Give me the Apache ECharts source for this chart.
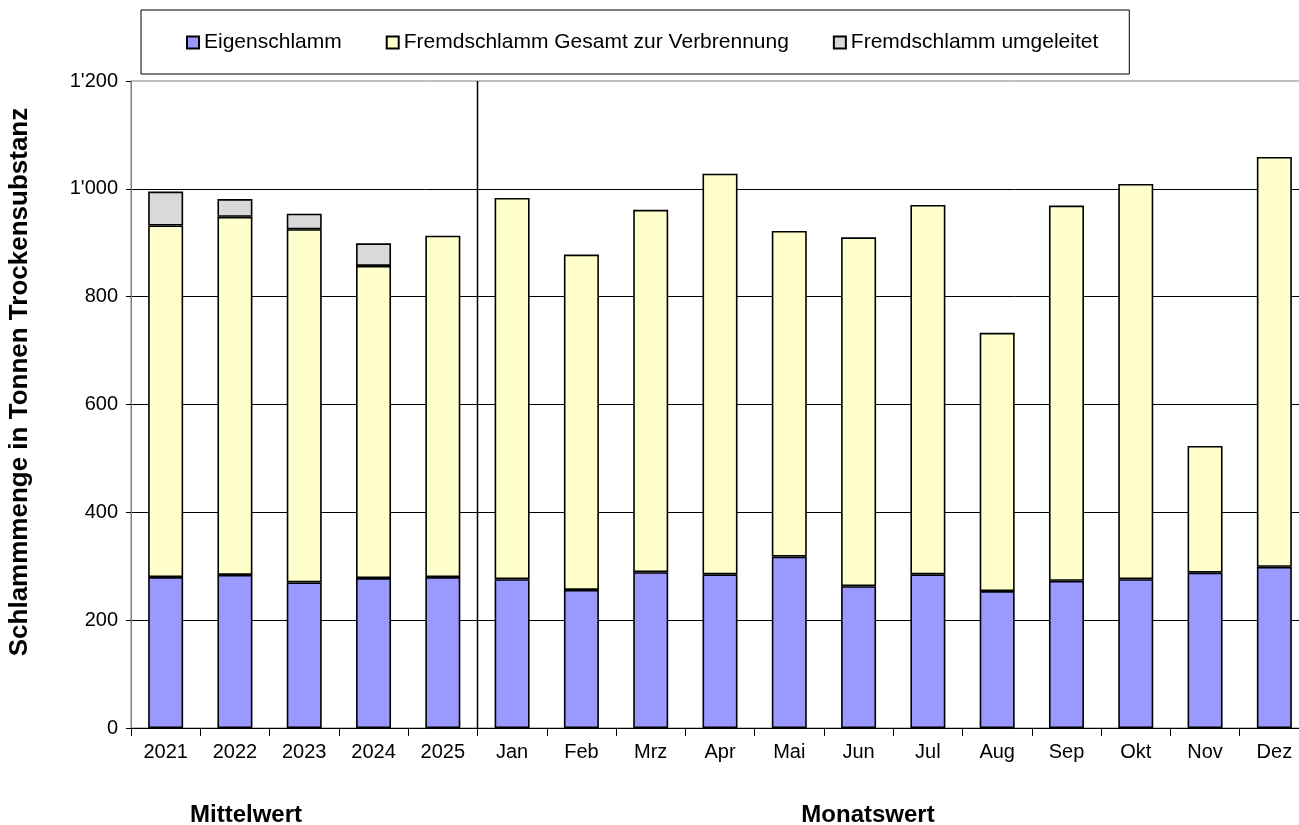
<!DOCTYPE html>
<html>
<head>
<meta charset="utf-8">
<script src="https://cdn.jsdelivr.net/npm/echarts@6/dist/echarts.min.js"></script>
<style>
  html, body { margin: 0; padding: 0; background: #fff; overflow: hidden; }
  #main { width: 1310px; height: 825px; }
</style>
</head>
<body>
<div id="main"></div>
<script>
// Kategorien: Jahresmittel und Monate
var categories = ['2021', '2022', '2023', '2024', '2025',
  'Jan', 'Feb', 'Mrz', 'Apr', 'Mai', 'Jun', 'Jul', 'Aug', 'Sep', 'Okt', 'Nov', 'Dez'];

var eigenschlamm = [280, 284, 270, 278, 280,
  276, 256, 289, 285, 318, 263, 285, 254, 273, 276, 288, 299];
var fremdGesamt = [652, 664, 655, 579, 633,
  707, 622, 672, 743, 604, 647, 685, 479, 696, 733, 235, 760];
var fremdUmgeleitet = [63, 33, 29, 42, null,
  null, null, null, null, null, null, null, null, null, null, null, null];

var yTicks = [0, 200, 400, 600, 800, 1000, 1200];

var font = 'Liberation Sans, Arial, sans-serif';

var myChart = echarts.init(document.getElementById('main'));

function fmt(v) {
  if (v >= 1000) {
    var r = String(v % 1000);
    while (r.length < 3) r = '0' + r;
    return Math.floor(v / 1000) + "'" + r;
  }
  return String(v);
}

var barStyle = function (color) {
  return { color: color, borderColor: '#000', borderWidth: 1.6 };
};

var option = {
  animation: false,
  textStyle: { fontFamily: font },
  legend: {
    left: 141,
    top: 10,
    padding: [22, 31, 21, 45],
    borderColor: '#000',
    borderWidth: 1,
    itemGap: 44,
    itemWidth: 12,
    itemHeight: 12,
    icon: 'rect',
    textStyle: { fontSize: 21, color: '#000', fontFamily: font },
    data: ['Eigenschlamm', 'Fremdschlamm Gesamt zur Verbrennung', 'Fremdschlamm umgeleitet']
  },
  grid: {
    left: 131,
    top: 81,
    width: 1178,
    height: 647,
    show: true,
    borderColor: '#808080',
    borderWidth: 1
  },
  xAxis: {
    type: 'category',
    data: categories,
    axisLine: { lineStyle: { color: '#000', width: 1 } },
    axisTick: { show: true, length: 8, lineStyle: { color: '#000' } },
    axisLabel: { fontSize: 20, color: '#000', margin: 14, fontFamily: font }
  },
  yAxis: {
    type: 'value',
    min: yTicks[0],
    max: yTicks[yTicks.length - 1],
    interval: 200,
    axisLine: { show: true, lineStyle: { color: '#808080' } },
    axisTick: { show: true, length: 5, lineStyle: { color: '#000' } },
    axisLabel: { fontSize: 20, color: '#000', margin: 13, fontFamily: font, formatter: fmt },
    splitLine: { show: true, showMaxLine: false, lineStyle: { color: '#000', width: 1 } }
  },
  series: [
    {
      name: 'Eigenschlamm',
      type: 'bar',
      stack: 'total',
      barWidth: 35,
      data: eigenschlamm,
      itemStyle: barStyle('#9999FF')
    },
    {
      name: 'Fremdschlamm Gesamt zur Verbrennung',
      type: 'bar',
      stack: 'total',
      barWidth: 35,
      data: fremdGesamt,
      itemStyle: barStyle('#FFFFCC')
    },
    {
      name: 'Fremdschlamm umgeleitet',
      type: 'bar',
      stack: 'total',
      barWidth: 35,
      data: fremdUmgeleitet,
      itemStyle: barStyle('#D9D9D9')
    }
  ],
  graphic: [
    {
      type: 'text',
      x: 20,
      y: 382,
      rotation: Math.PI / 2,
      style: {
        text: 'Schlammmenge in Tonnen Trockensubstanz',
        font: 'bold 26px ' + font,
        fill: '#000',
        align: 'center',
        verticalAlign: 'middle'
      }
    },
    {
      type: 'text',
      x: 246,
      y: 815,
      style: {
        text: 'Mittelwert',
        font: 'bold 24px ' + font,
        fill: '#000',
        align: 'center',
        verticalAlign: 'middle'
      }
    },
    {
      type: 'text',
      x: 868,
      y: 815,
      style: {
        text: 'Monatswert',
        font: 'bold 24px ' + font,
        fill: '#000',
        align: 'center',
        verticalAlign: 'middle'
      }
    }
  ]
};

myChart.setOption(option);

// Trennlinie zwischen Mittelwerten und Monatswerten
var x4 = myChart.convertToPixel({ xAxisIndex: 0 }, categories[4]);
var x5 = myChart.convertToPixel({ xAxisIndex: 0 }, categories[5]);
var yTop = myChart.convertToPixel({ yAxisIndex: 0 }, yTicks[yTicks.length - 1]);
var yBot = myChart.convertToPixel({ yAxisIndex: 0 }, yTicks[0]);
var xs = Math.round((x4 + x5) / 2) + 0.5;
option.graphic.push({
  type: 'line',
  shape: { x1: xs, y1: yTop, x2: xs, y2: yBot },
  style: { stroke: '#000', lineWidth: 1.5 },
  z: 10
});
myChart.setOption({ graphic: option.graphic });
</script>
</body>
</html>
